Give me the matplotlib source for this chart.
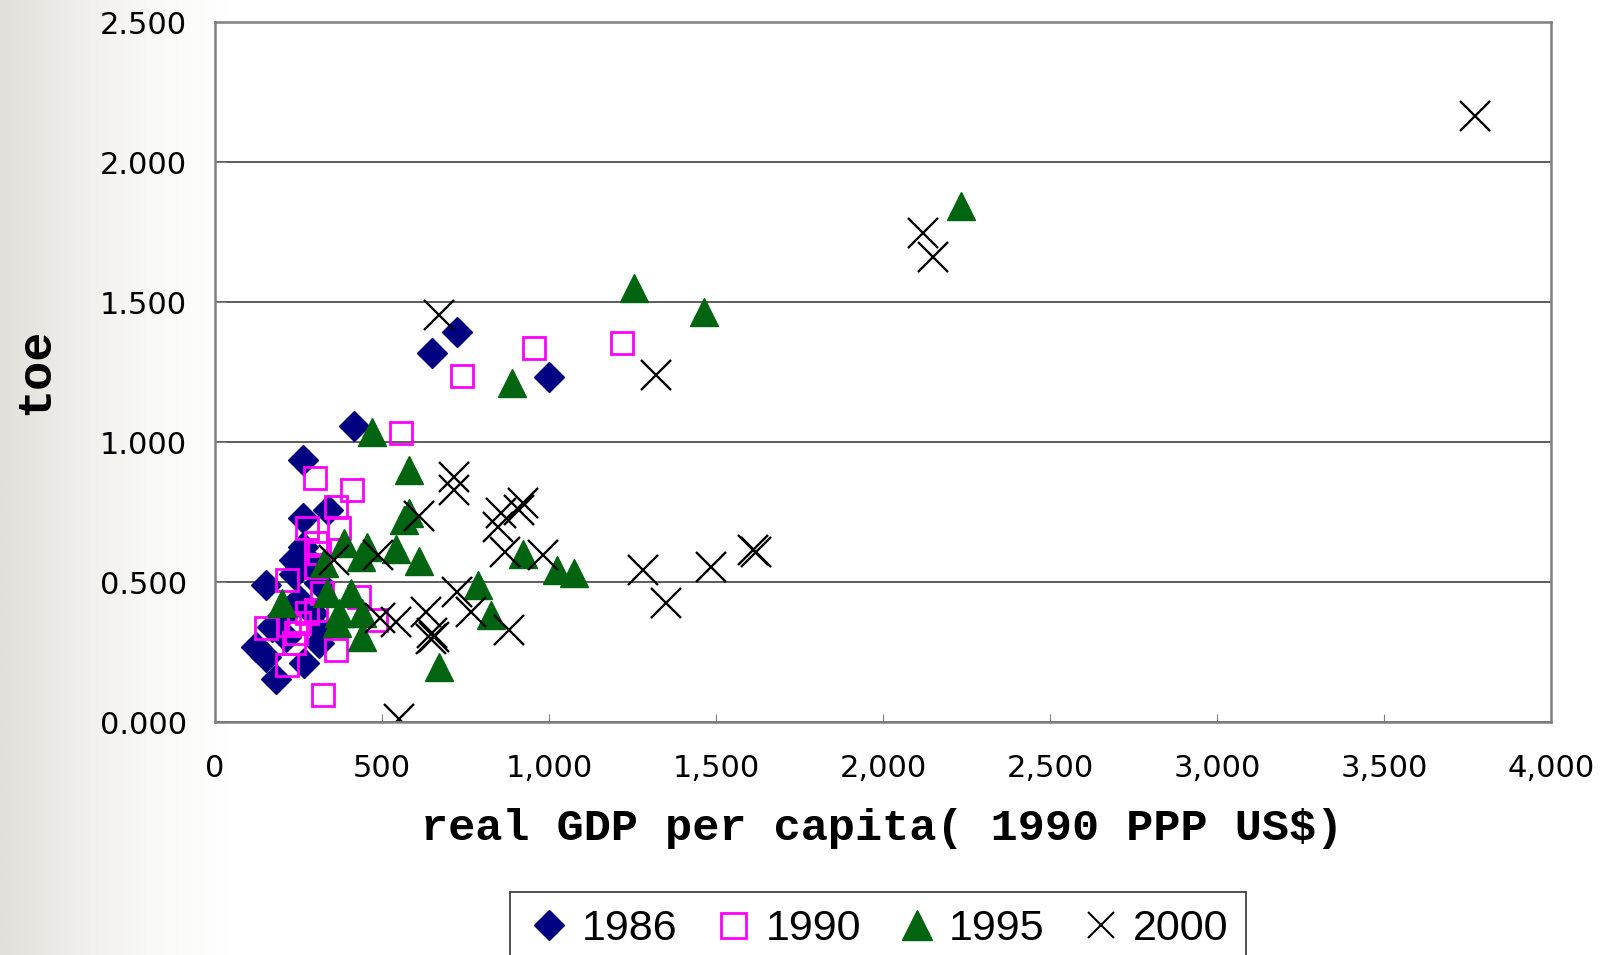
import numpy as np
import matplotlib
matplotlib.use("Agg")
import matplotlib.pyplot as plt
from matplotlib.colors import LinearSegmentedColormap
from matplotlib.lines import Line2D

# values (real GDP per capita, toe)
gdp_1986 = [651, 725, 1001, 415, 262, 262, 337, 262, 237, 273, 237, 152, 252, 292,
            122, 182, 267, 321, 312, 172, 212, 152, 312, 292, 200, 230]
toe_1986 = [1.317, 1.394, 1.233, 1.058, 0.935, 0.730, 0.757, 0.626, 0.579, 0.585, 0.530, 0.490, 0.436, 0.388,
            0.268, 0.155, 0.210, 0.317, 0.281, 0.340, 0.305, 0.233, 0.495, 0.550, 0.380, 0.410]

gdp_1990 = [1218, 955, 740, 556, 300, 411, 362, 276, 372, 302, 312, 302, 217, 321,
            431, 302, 152, 222, 252, 237, 217, 362, 481, 322, 242, 276]
toe_1990 = [1.353, 1.335, 1.236, 1.033, 0.870, 0.829, 0.769, 0.692, 0.692, 0.638, 0.602, 0.555, 0.507, 0.460,
            0.448, 0.400, 0.335, 0.346, 0.352, 0.281, 0.204, 0.257, 0.364, 0.096, 0.317, 0.390]

gdp_1995 = [1255, 1464, 2234, 890, 469, 581, 581, 566, 541, 611, 456, 386, 436, 326,
            202, 336, 406, 371, 441, 366, 441, 671, 786, 826, 921, 1023, 1076]
toe_1995 = [1.550, 1.466, 1.843, 1.210, 1.035, 0.900, 0.745, 0.720, 0.617, 0.576, 0.626, 0.638, 0.590, 0.567,
            0.424, 0.460, 0.460, 0.388, 0.388, 0.352, 0.305, 0.198, 0.489, 0.383, 0.600, 0.544, 0.531]

gdp_2000 = [3771, 2120, 2151, 1320, 672, 716, 716, 611, 856, 921, 911, 846, 869, 981,
            489, 357, 1280, 1350, 1485, 1610, 1620, 726, 766, 631, 651, 656, 646,
            881, 541, 494, 551]
toe_2000 = [2.165, 1.745, 1.660, 1.240, 1.452, 0.874, 0.829, 0.735, 0.745, 0.781, 0.757, 0.698, 0.608, 0.596,
            0.598, 0.579, 0.543, 0.424, 0.552, 0.614, 0.606, 0.465, 0.394, 0.394, 0.317, 0.305, 0.296,
            0.329, 0.358, 0.372, 0.010]

x_ticks = [0, 500, 1000, 1500, 2000, 2500, 3000, 3500, 4000]
x_tick_labels = ["0", "500", "1,000", "1,500", "2,000", "2,500", "3,000", "3,500", "4,000"]
y_ticks = [0.0, 0.5, 1.0, 1.5, 2.0, 2.5]
y_tick_labels = ["0.000", "0.500", "1.000", "1.500", "2.000", "2.500"]

W, H = 1606, 955
fig = plt.figure(figsize=(W / 100, H / 100), dpi=100)
fig.patch.set_facecolor("white")

# grey slide gradient on the left edge
bg = fig.add_axes([0, 0, 230 / W, 1])
cmap = LinearSegmentedColormap.from_list("edge", ["#e2e0da", "#efeeea", "#f9f9f7", "#ffffff"])
bg.imshow(np.linspace(0, 1, 300).reshape(1, -1), cmap=cmap, aspect="auto", extent=[0, 1, 0, 1])
bg.axis("off")

ax = fig.add_axes([215 / W, (H - 722) / H, (1551 - 215) / W, 700 / H])
ax.set_facecolor("white")

ax.plot(gdp_1986, toe_1986, ls="none", marker="D", ms=15, color="#000080", mec="#000080", label="1986")
ax.plot(gdp_1990, toe_1990, ls="none", marker="s", ms=16.5, mfc="none", mec="#ff00ff", mew=2.0, label="1990")
ax.plot(gdp_1995, toe_1995, ls="none", marker="^", ms=19.5, color="#006411", mec="#006411", label="1995")
ax.plot(gdp_2000, toe_2000, ls="none", marker="x", ms=21, color="black", mew=1.7, label="2000")

ax.set_xlim(0, 4000)
ax.set_ylim(0, 2.5)
ax.set_xticks(x_ticks)
ax.set_xticklabels(x_tick_labels)
ax.set_yticks(y_ticks)
ax.set_yticklabels(y_tick_labels)
ax.tick_params(axis="both", direction="in", colors="#808080", labelcolor="black", labelsize=22)
ax.tick_params(axis="y", length=8, pad=20)
ax.tick_params(axis="x", length=6, pad=23)
for lab in ax.get_xticklabels() + ax.get_yticklabels():
    lab.set_family("DejaVu Sans")

ax.yaxis.grid(True, color="#303030", lw=1.1)
ax.set_axisbelow(True)
for s in ax.spines.values():
    s.set_color("#808080")
    s.set_linewidth(1.8)

fig.text(882 / W, 1 - 828 / H, "real GDP per capita( 1990 PPP US$)", ha="center", va="center",
         family="Liberation Mono", weight="bold", fontsize=32.5)
fig.text(36 / W, 1 - 371 / H, "toe", ha="center", va="center", rotation=90,
         family="Liberation Mono", weight="bold", fontsize=35)

handles = [
    Line2D([], [], ls="none", marker="D", ms=15, color="#000080"),
    Line2D([], [], ls="none", marker="s", ms=18, mfc="none", mec="#ff00ff", mew=2.0),
    Line2D([], [], ls="none", marker="^", ms=22, color="#006411"),
    Line2D([], [], ls="none", marker="x", ms=19, color="black", mew=1.5),
]
leg = fig.legend(handles, ["1986", "1990", "1995", "2000"], loc="upper center",
                 bbox_to_anchor=(878 / W, 1 - 892 / H), borderaxespad=0, ncol=4, frameon=True,
                 fancybox=False, edgecolor="black", handlelength=1.0, handletextpad=0.25,
                 columnspacing=0.8, borderpad=0.4, prop={"family": "Liberation Sans", "size": 31})
leg.get_frame().set_linewidth(1.2)

fig.savefig("out.png", dpi=100)
